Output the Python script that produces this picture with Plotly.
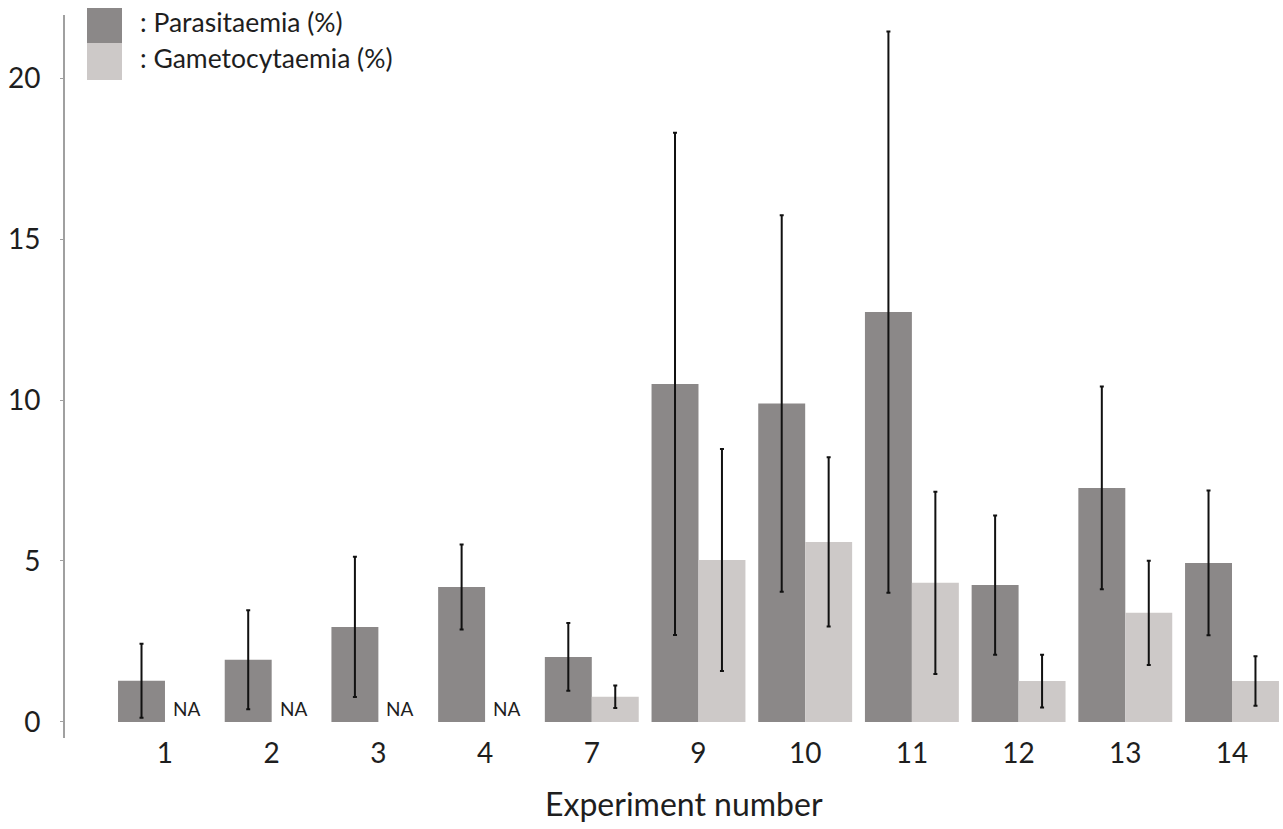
import plotly.graph_objects as go

experiments = ["1", "2", "3", "4", "7", "9", "10", "11", "12", "13", "14"]
parasitaemia = [1.28, 1.93, 2.95, 4.19, 2.02, 10.5, 9.89, 12.73, 4.25, 7.27, 4.94]
parasitaemia_err = [1.15, 1.54, 2.18, 1.32, 1.05, 7.8, 5.85, 8.72, 2.16, 3.15, 2.25]
gametocytaemia = [None, None, None, None, 0.78, 5.03, 5.59, 4.32, 1.27, 3.39, 1.27]
gametocytaemia_err = [None, None, None, None, 0.35, 3.45, 2.63, 2.83, 0.82, 1.62, 0.77]
y_ticks = [0, 5, 10, 15, 20]

DARK = "#8b8888"
LIGHT = "#cdc9c8"
FONT = "Lato"
TXT = "#1e1e1e"

fig = go.Figure()
fig.add_trace(go.Bar(
    x=experiments, y=parasitaemia, name="Parasitaemia (%)",
    marker=dict(color=DARK, line=dict(width=0)),
    error_y=dict(type="data", array=parasitaemia_err, visible=True,
                 color="#111111", thickness=2, width=2),
    showlegend=False,
))
fig.add_trace(go.Bar(
    x=experiments, y=gametocytaemia, name="Gametocytaemia (%)",
    marker=dict(color=LIGHT, line=dict(width=0)),
    error_y=dict(type="data", array=gametocytaemia_err, visible=True,
                 color="#111111", thickness=2, width=2),
    showlegend=False,
))

# "NA" labels where gametocytaemia was not available (right half of group);
# category axes position annotations by category index
for idx, val in enumerate(gametocytaemia):
    if val is None:
        fig.add_annotation(x=idx, y=0, text="NA", showarrow=False,
                           xanchor="center", yanchor="bottom",
                           xshift=22, yshift=0,
                           font=dict(family=FONT, size=19, color=TXT))

# legend drawn as squares + labels
fig.add_shape(type="rect", xref="paper", yref="paper",
              x0=(87 - 65) / 1218, x1=(122 - 65) / 1218,
              y0=(738 - 43) / 723, y1=(738 - 8) / 723,
              fillcolor=DARK, line=dict(width=0), layer="above")
fig.add_shape(type="rect", xref="paper", yref="paper",
              x0=(87 - 65) / 1218, x1=(122 - 65) / 1218,
              y0=(738 - 80) / 723, y1=(738 - 43) / 723,
              fillcolor=LIGHT, line=dict(width=0), layer="above")
fig.add_annotation(text=": Parasitaemia (%)", xref="paper", yref="paper",
                   x=(138 - 65) / 1218, y=(738 - 22) / 723,
                   xanchor="left", yanchor="middle", showarrow=False,
                   font=dict(family=FONT, size=26.5, color=TXT))
fig.add_annotation(text=": Gametocytaemia (%)", xref="paper", yref="paper",
                   x=(138 - 65) / 1218, y=(738 - 58) / 723,
                   xanchor="left", yanchor="middle", showarrow=False,
                   font=dict(family=FONT, size=26.5, color=TXT))
fig.add_annotation(text="Experiment number", xref="paper", yref="paper",
                   x=(684 - 65) / 1218, y=(738 - 804) / 723,
                   xanchor="center", yanchor="middle", showarrow=False,
                   font=dict(family=FONT, size=32, color=TXT))

fig.update_layout(
    width=1283, height=829,
    margin=dict(l=65, r=0, t=15, b=91),
    paper_bgcolor="white", plot_bgcolor="white",
    barmode="group", bargap=0.12, bargroupgap=0,
    font=dict(family=FONT, color=TXT),
    xaxis=dict(
        type="category", range=[-0.937, 10.478],
        showline=False, showgrid=False, zeroline=False,
        ticks="", tickfont=dict(family=FONT, size=28, color=TXT),
        ticklabelstandoff=-4,
    ),
    yaxis=dict(
        range=[-0.5, 21.96], tickvals=y_ticks,
        showline=True, linecolor="#a0a0a0", linewidth=2,
        showgrid=False, zeroline=False,
        ticks="outside", ticklen=3, tickcolor="#a0a0a0", tickwidth=1,
        tickfont=dict(family=FONT, size=28, color=TXT),
        ticklabelstandoff=14,
    ),
)

fig.write_html("out.html")
